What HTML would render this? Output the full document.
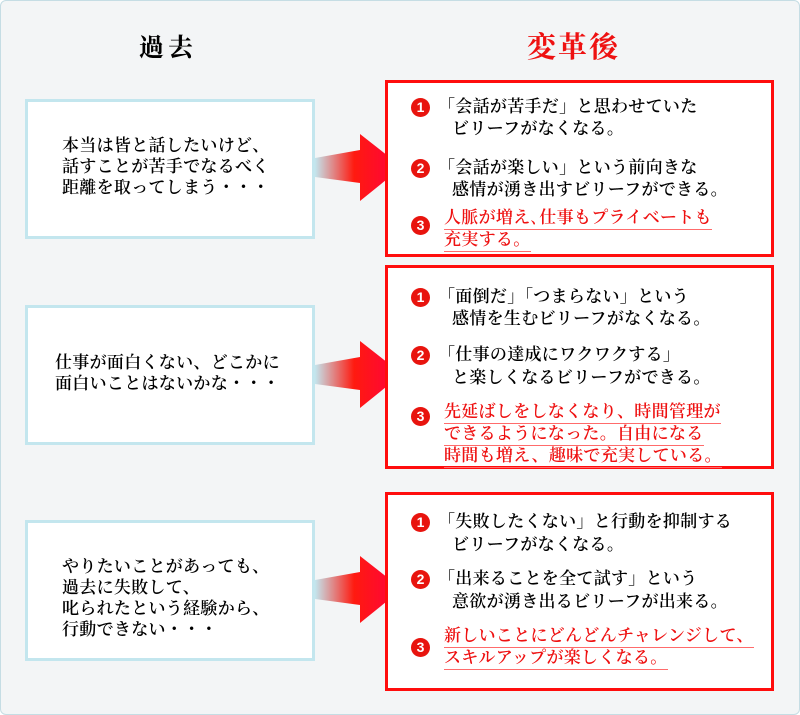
<!DOCTYPE html>
<html><head><meta charset="utf-8"><style>
*{margin:0;padding:0;box-sizing:border-box}
body{width:800px;height:715px;background:#fff;position:relative;overflow:hidden;font-family:"Liberation Serif","Noto Serif CJK SC",serif;color:#000}
.bg{position:absolute;left:0;top:0;width:800px;height:715px;background:#f3f5f6;border:1px solid #c5dde4;border-radius:6px}
.lb{position:absolute;left:25px;width:290px;background:#fff;border:3px solid #c3e6ee}
.rb{position:absolute;left:385px;width:389px;background:#fff;border:3px solid #ff0d0d}
.t{position:absolute;font-size:17px;line-height:20px;white-space:nowrap;letter-spacing:0.3px;font-weight:600}
.r{color:#ee1111;border-bottom:1px solid #ff6b6b;padding-bottom:1px}
.n{position:absolute;width:19px;height:19px;border-radius:50%;background:#e8140e;color:#fff;font:bold 14px/19px "Liberation Sans",sans-serif;text-align:center}
svg{position:absolute}
</style></head><body>
<div class="bg"></div>
<div class="t" style="left:139px;top:34px;font-size:25px;line-height:30px;font-weight:bold;letter-spacing:4px">過去</div>
<div class="t" style="left:527px;top:31px;font-size:29px;line-height:34px;font-weight:bold;color:#ee1111;letter-spacing:2px">変革後</div>

<div class="lb" style="top:99px;height:140px"></div>
<div class="lb" style="top:305px;height:140px"></div>
<div class="lb" style="top:520px;height:141px"></div>

<svg width="800" height="715" style="left:0;top:0">
<defs><linearGradient id="g" x1="0" x2="1"><stop offset="0" stop-color="#c3e6ee"/><stop offset="0.45" stop-color="#ff1a10"/><stop offset="1" stop-color="#ff0040"/></linearGradient></defs>
<polygon points="315,158 360,150 360,134 402,167 360,201 360,183 315,177" fill="url(#g)"/>
<polygon points="315,365 360,357 360,341 402,374 360,408 360,390 315,384" fill="url(#g)"/>
<polygon points="315,580 360,572 360,556 402,589 360,623 360,605 315,599" fill="url(#g)"/>
</svg>

<div class="rb" style="top:80px;height:177px"></div>
<div class="rb" style="top:265px;height:204px"></div>
<div class="rb" style="top:492px;height:199px"></div>

<div class="t" style="left:62px;top:136px">本当は皆と話したいけど、</div>
<div class="t" style="left:62px;top:157px">話すことが苦手でなるべく</div>
<div class="t" style="left:62px;top:178px">距離を取ってしまう・・・</div>

<div class="t" style="left:55px;top:353px">仕事が面白くない、どこかに</div>
<div class="t" style="left:55px;top:374px">面白いことはないかな・・・</div>

<div class="t" style="left:62px;top:557px">やりたいことがあっても、</div>
<div class="t" style="left:62px;top:578px">過去に失敗して、</div>
<div class="t" style="left:62px;top:599px">叱られたという経験から、</div>
<div class="t" style="left:62px;top:620px">行動できない・・・</div>

<div class="n" style="left:411px;top:98px">1</div>
<div class="t" style="left:438px;top:97px">「会話が苦手だ」と思わせていた</div>
<div class="t" style="left:452px;top:119px">ビリーフがなくなる。</div>
<div class="n" style="left:411px;top:159px">2</div>
<div class="t" style="left:438px;top:158px">「会話が楽しい」という前向きな</div>
<div class="t" style="left:452px;top:180px">感情が湧き出すビリーフができる。</div>
<div class="n" style="left:411px;top:216px">3</div>
<div class="t r" style="left:444px;top:208px">人脈が増え､仕事もプライベートも</div>
<div class="t r" style="left:444px;top:230px">充実する。</div>

<div class="n" style="left:411px;top:288px">1</div>
<div class="t" style="left:438px;top:287px">「面倒だ」「つまらない」という</div>
<div class="t" style="left:452px;top:309px">感情を生むビリーフがなくなる。</div>
<div class="n" style="left:411px;top:346px">2</div>
<div class="t" style="left:438px;top:345px">「仕事の達成にワクワクする」</div>
<div class="t" style="left:452px;top:368px">と楽しくなるビリーフができる。</div>
<div class="n" style="left:411px;top:407px">3</div>
<div class="t r" style="left:444px;top:402px">先延ばしをしなくなり、時間管理が</div>
<div class="t r" style="left:444px;top:424px">できるようになった。自由になる</div>
<div class="t r" style="left:444px;top:446px">時間も増え、趣味で充実している。</div>

<div class="n" style="left:411px;top:513px">1</div>
<div class="t" style="left:438px;top:512px">「失敗したくない」と行動を抑制する</div>
<div class="t" style="left:452px;top:535px">ビリーフがなくなる。</div>
<div class="n" style="left:411px;top:570px">2</div>
<div class="t" style="left:438px;top:569px">「出来ることを全て試す」という</div>
<div class="t" style="left:452px;top:592px">意欲が湧き出るビリーフが出来る。</div>
<div class="n" style="left:411px;top:638px">3</div>
<div class="t r" style="left:444px;top:626px">新しいことにどんどんチャレンジして、</div>
<div class="t r" style="left:444px;top:648px">スキルアップが楽しくなる。</div>
</body></html>
